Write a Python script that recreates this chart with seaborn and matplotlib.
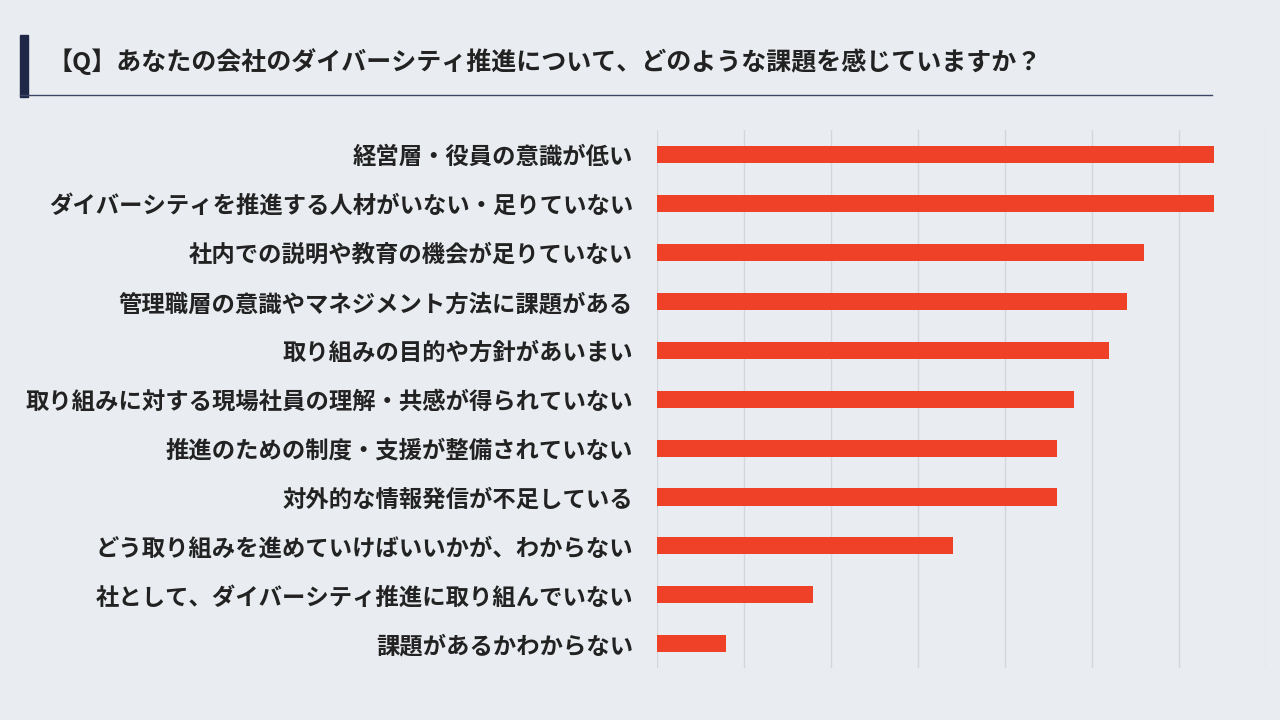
import numpy as np
import pandas as pd
import seaborn as sns
import matplotlib.pyplot as plt
from matplotlib.lines import Line2D
from matplotlib.patches import Rectangle

plt.rcParams['font.family'] = 'Noto Sans CJK JP'

TITLE = "【Q】あなたの会社のダイバーシティ推進について、どのような課題を感じていますか？"
categories = [
    "経営層・役員の意識が低い",
    "ダイバーシティを推進する人材がいない・足りていない",
    "社内での説明や教育の機会が足りていない",
    "管理職層の意識やマネジメント方法に課題がある",
    "取り組みの目的や方針があいまい",
    "取り組みに対する現場社員の理解・共感が得られていない",
    "推進のための制度・支援が整備されていない",
    "対外的な情報発信が不足している",
    "どう取り組みを進めていけばいいかが、わからない",
    "社として、ダイバーシティ推進に取り組んでいない",
    "課題があるかわからない",
]
values = [32.0, 32.0, 28.0, 27.0, 26.0, 24.0, 23.0, 23.0, 17.0, 9.0, 4.0]

BG = '#e9ecf0'
df = pd.DataFrame({'cat': categories, 'val': values})

fig = plt.figure(figsize=(12.8, 7.2), dpi=100, facecolor=BG)
ax = fig.add_axes([0.513, 0.072, 0.476, 0.747], facecolor=BG)

sns.barplot(data=df, y='cat', x='val', color='#ee4128', width=0.35,
            saturation=1, ax=ax, zorder=3)

ax.set_xlim(0, 35)
ax.set_xticks(np.arange(0, 36, 5))
ax.xaxis.grid(True, color='#d3d6da', lw=1, zorder=0)
ax.tick_params(axis='x', length=0, labelbottom=False)
ax.tick_params(axis='y', length=0, labelsize=16.8, pad=17, labelcolor='#222222')
for lbl in ax.get_yticklabels():
    lbl.set_fontweight('bold')
ax.set_xlabel('')
ax.set_ylabel('')
for s in ax.spines.values():
    s.set_visible(False)

# タイトル部分
fig.patches.append(Rectangle((20 / 1280, 1 - 97 / 720), 8 / 1280, 62 / 720,
                             transform=fig.transFigure, color='#1e2747'))
fig.lines.append(Line2D([20 / 1280, 1212 / 1280], [1 - 95 / 720] * 2,
                        transform=fig.transFigure, color='#3d4666', lw=1))
fig.text(48 / 1280, 1 - 62 / 720, TITLE, fontsize=18, fontweight='bold',
         color='#222222', va='center', ha='left')

fig.savefig('out.png', dpi=100, facecolor=BG)
